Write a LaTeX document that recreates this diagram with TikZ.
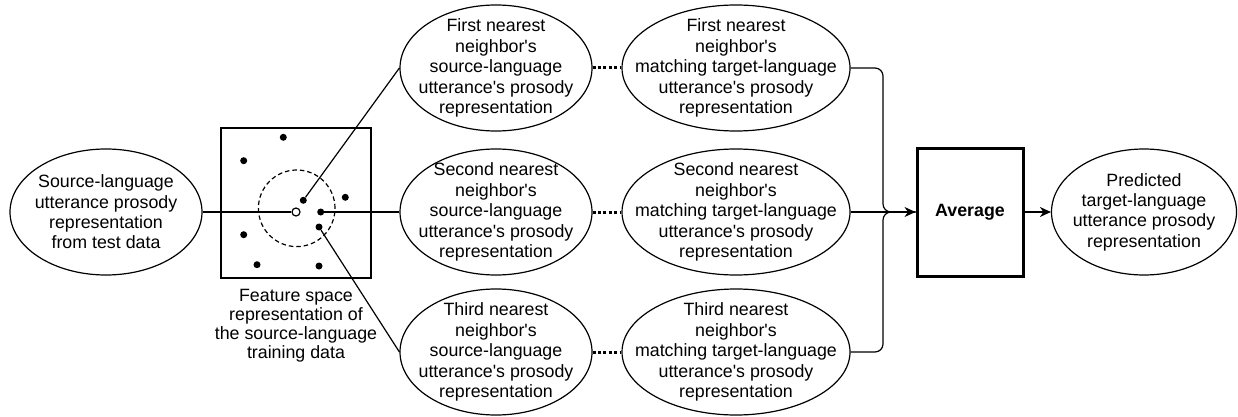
\documentclass[tikz,border=0pt]{standalone}
\usepackage{fontspec}
\setmainfont{Liberation Sans}
\usetikzlibrary{shapes.geometric,arrows.meta}
\newcommand{\ap}{\textquotesingle}
\begin{document}
\begin{tikzpicture}[x=1pt,y=-1pt,
  every node/.style={font=\fontsize{17.8}{20.4}\selectfont},
  ln/.style={line width=1.2pt},
  bub/.style={draw, line width=1.2pt, ellipse, minimum width=#1, minimum height=126pt, inner sep=0pt},
  lab/.style={align=center},
  dotpt/.style={circle, fill=black, inner sep=0pt, minimum size=7pt},
  opt/.style={circle, draw, line width=1.2pt, fill=white, inner sep=0pt, minimum size=8pt},
  pair/.style={line width=3pt, dash pattern=on 3pt off 2.4pt},
  arr/.style={ln, -{Stealth[length=11pt, width=10pt, inset=3.5pt]}}
]
\useasboundingbox (0,0) rectangle (1238,417);

% source
\node[bub=192pt, label={[lab]center:Source-language\\utterance prosody\\representation\\from test data}] (src) at (106,212) {};

% feature space
\node[draw, line width=1.2pt, minimum size=150pt, inner sep=0pt] (fs) at (296,203) {};
\draw[ln, dash pattern=on 4.5pt off 3pt] (296.7,208.3) circle (38.3pt);
\node[dotpt] (q1) at (283.3,137.3) {};
\node[dotpt] (q2) at (243.7,160.7) {};
\node[dotpt] (n1) at (303.3,200.3) {};
\node[dotpt] (q3) at (345.3,197.3) {};
\node[dotpt] (n2) at (320.7,212) {};
\node[dotpt] (n3) at (319,227) {};
\node[dotpt] (q4) at (243.7,234.7) {};
\node[dotpt] (q5) at (257,264.7) {};
\node[dotpt] (q6) at (319,266) {};
\node[lab, font=\fontsize{17.8}{19}\selectfont] (cap) at (296,326) {Feature space\\representation of\\the source-language\\training data};

% column 2
\node[bub=192pt, label={[lab]center:First nearest\\neighbor\ap s\\source-language\\utterance\ap s prosody\\representation}] (a1) at (496,68) {};
\node[bub=192pt, label={[lab]center:Second nearest\\neighbor\ap s\\source-language\\utterance\ap s prosody\\representation}] (b1) at (496,212) {};
\node[bub=192pt, label={[lab]center:Third nearest\\neighbor\ap s\\source-language\\utterance\ap s prosody\\representation}] (c1) at (496,352) {};

% column 3
\node[bub=228pt, label={[lab]center:First nearest\\neighbor\ap s\\matching target-language\\utterance\ap s prosody\\representation}] (a2) at (736,68) {};
\node[bub=228pt, label={[lab]center:Second nearest\\neighbor\ap s\\matching target-language\\utterance\ap s prosody\\representation}] (b2) at (736,212) {};
\node[bub=228pt, label={[lab]center:Third nearest\\neighbor\ap s\\matching target-language\\utterance\ap s prosody\\representation}] (c2) at (736,352) {};

% average and result
\node[draw, line width=3pt, minimum width=106pt, minimum height=128pt, inner sep=0pt, font=\fontsize{17.8}{20.4}\selectfont\bfseries] (avg) at (970,212) {Average};
\node[bub=185pt, label={[lab]center:Predicted\\target-language\\utterance prosody\\representation}] (res) at (1144,212) {};

% connectors
\node[opt] (o) at (296,212) {};
\draw[ln] (src) -- (o);
\draw[ln] (n2) -- (b1);
\draw[ln] (n1) -- (a1.west);
\draw[ln] (n3) -- (c1.west);

\draw[pair] (a1.east) -- (a2.west);
\draw[pair] (b1.east) -- (b2.west);
\draw[pair] (c1.east) -- (c2.west);

\coordinate (mx) at (883,212);
\draw[ln, rounded corners=8pt] (a2.east) -- (a2.east -| mx) -- (mx) -- (avg.west);
\draw[ln, rounded corners=8pt] (c2.east) -- (c2.east -| mx) -- (mx) -- (avg.west);
\draw[arr] (b2) -- (avg);
\draw[arr] (avg) -- (res);
\end{tikzpicture}
\end{document}
